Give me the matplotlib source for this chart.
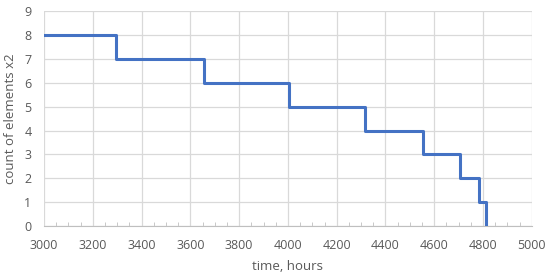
import numpy as np
import matplotlib.pyplot as plt
from matplotlib.ticker import MultipleLocator

times = [3000, 3295, 3657, 4005, 4317, 4553, 4705, 4783, 4814]
counts = [8, 7, 6, 5, 4, 3, 2, 1, 0]

plt.rcParams['font.family'] = ['Open Sans', 'DejaVu Sans']
txt = '#595959'

fig = plt.figure(figsize=(5.5, 2.78), dpi=100)
ax = fig.add_axes([0.08, 0.187, 0.887, 0.773])

ax.step(times, counts, where='post', color='#4472C4', lw=2.2, zorder=3)

ax.set_xlim(3000, 5000)
ax.set_ylim(0, 9)
ax.xaxis.set_major_locator(MultipleLocator(200))
ax.xaxis.set_minor_locator(MultipleLocator(50))
ax.yaxis.set_major_locator(MultipleLocator(1))
ax.grid(True, which='major', color='#D9D9D9', lw=0.9)
ax.set_axisbelow(True)

for s in ['top', 'right', 'left']:
    ax.spines[s].set_visible(False)
ax.spines['bottom'].set_color('#BFBFBF')
ax.tick_params(axis='both', which='major', length=0, labelsize=9, colors=txt)
ax.tick_params(axis='y', which='major', pad=9)
ax.tick_params(axis='x', which='major', pad=9)
ax.tick_params(axis='x', which='minor', direction='in', length=3, color='#BFBFBF')

ax.set_xlabel('time, hours', fontsize=9.5, color=txt, labelpad=6)
ax.set_ylabel('count of elements x2', fontsize=9.5, color=txt, labelpad=5)

fig.savefig('out.png', dpi=100)
